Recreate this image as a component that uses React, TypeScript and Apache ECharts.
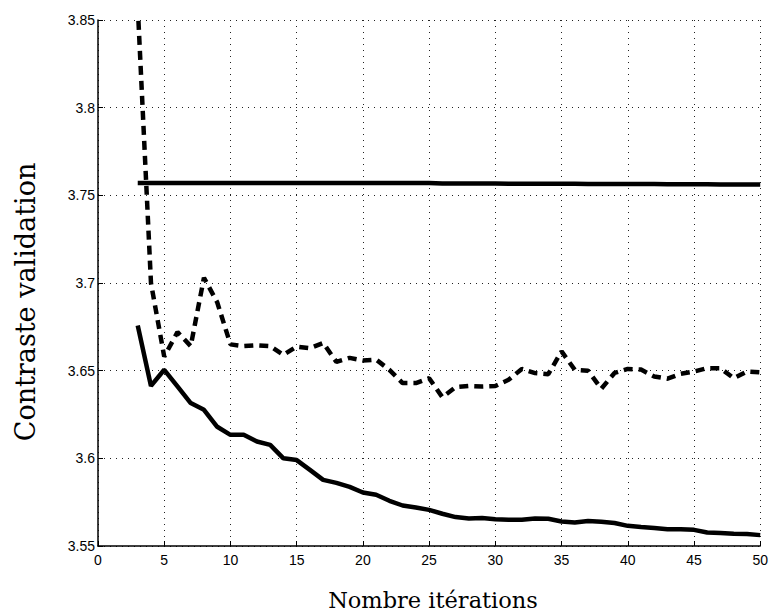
import React, { useEffect, useRef } from "react";
import * as echarts from "echarts";

const iterations = [3, 4, 5, 6, 7, 8, 9, 10, 11, 12, 13, 14, 15, 16, 17, 18, 19, 20, 21, 22, 23, 24, 25, 26, 27, 28, 29, 30, 31, 32, 33, 34, 35, 36, 37, 38, 39, 40, 41, 42, 43, 44, 45, 46, 47, 48, 49, 50];

const flatValues = [3.757, 3.757, 3.757, 3.757, 3.757, 3.757, 3.757, 3.757, 3.757, 3.757, 3.757, 3.757, 3.757, 3.757, 3.757, 3.757, 3.757, 3.757, 3.757, 3.757, 3.757, 3.757, 3.757, 3.7568, 3.7568, 3.7568, 3.7568, 3.7568, 3.7566, 3.7566, 3.7566, 3.7566, 3.7566, 3.7566, 3.7564, 3.7564, 3.7564, 3.7564, 3.7564, 3.7564, 3.7563, 3.7563, 3.7563, 3.7563, 3.7562, 3.7562, 3.7562, 3.7562];

const dashedValues = [3.858, 3.700, 3.658, 3.672, 3.664, 3.703, 3.689, 3.665, 3.664, 3.6645, 3.664, 3.659, 3.6637, 3.6628, 3.6658, 3.655, 3.6573, 3.6558, 3.6563, 3.6505, 3.6429, 3.6429, 3.6457, 3.6349, 3.6406, 3.6413, 3.641, 3.6413, 3.6448, 3.651, 3.6486, 3.648, 3.661, 3.6505, 3.650, 3.6397, 3.6487, 3.651, 3.6506, 3.6467, 3.6454, 3.6482, 3.6495, 3.6514, 3.6514, 3.6457, 3.6495, 3.649];

const solidValues = [3.6757, 3.6413, 3.6505, 3.641, 3.6315, 3.6277, 3.618, 3.6134, 3.6134, 3.6096, 3.6077, 3.600, 3.599, 3.5934, 3.5877, 3.586, 3.5837, 3.5805, 3.5792, 3.5758, 3.5731, 3.572, 3.5706, 3.5684, 3.5665, 3.5657, 3.566, 3.5653, 3.565, 3.565, 3.5657, 3.5655, 3.564, 3.5634, 3.5642, 3.5638, 3.5631, 3.5615, 3.5608, 3.5602, 3.5596, 3.5596, 3.5592, 3.5577, 3.5574, 3.557, 3.5568, 3.5562];

const xLabel = "Nombre itérations";
const yLabel = "Contraste validation";

const pairs = (ys: number[]) => iterations.map((x, i) => [x, ys[i]]);

export default function App() {
  const ref = useRef<HTMLDivElement>(null);
  useEffect(() => {
    document.body.style.margin = "0";
    const chart = echarts.init(ref.current!, undefined, { renderer: "svg" });
    const tickFont = { fontFamily: "Liberation Sans, Arial, sans-serif", fontSize: 14, color: "#000" };
    const splitLine = { show: true, lineStyle: { color: "#222", width: 1, type: [1, 5] as number[] } };
    chart.setOption({
      animation: false,
      backgroundColor: "#fff",
      grid: { left: 98, right: 6, top: 20, bottom: 67, containLabel: false },
      xAxis: {
        type: "value",
        min: 0,
        max: 50,
        interval: 5,
        axisLine: { show: true, onZero: false, lineStyle: { color: "#000", width: 1.5 } },
        axisTick: { show: true, inside: true, length: 5, lineStyle: { color: "#000", width: 1 } },
        axisLabel: { ...tickFont, margin: 7 },
        splitLine,
      },
      yAxis: {
        type: "value",
        min: 3.55,
        max: 3.85,
        interval: 0.05,
        axisLine: { show: true, onZero: false, lineStyle: { color: "#000", width: 1.5 } },
        axisTick: { show: true, inside: true, length: 5, lineStyle: { color: "#000", width: 1 } },
        axisLabel: {
          ...tickFont,
          margin: 3,
          formatter: (v: number) => String(parseFloat(v.toFixed(2))),
        },
        splitLine,
      },
      graphic: [
        {
          type: "text",
          x: 433,
          y: 600,
          style: {
            text: xLabel,
            fontFamily: "DejaVu Serif, serif",
            fontSize: 22.5,
            fill: "#000",
            textAlign: "center",
            textVerticalAlign: "middle",
          },
        },
        {
          type: "text",
          x: 25,
          y: 302,
          rotation: Math.PI / 2,
          style: {
            text: yLabel,
            fontFamily: "DejaVu Serif, serif",
            fontSize: 27,
            fill: "#000",
            textAlign: "center",
            textVerticalAlign: "middle",
          },
        },
      ],
      series: [
        {
          type: "line",
          data: pairs(flatValues),
          showSymbol: false,
          lineStyle: { color: "#000", width: 4.5 },
        },
        {
          type: "line",
          data: pairs(dashedValues),
          showSymbol: false,
          clip: true,
          lineStyle: { color: "#000", width: 4.5, type: [9, 6], cap: "butt" },
        },
        {
          type: "line",
          data: pairs(solidValues),
          showSymbol: false,
          lineStyle: { color: "#000", width: 4.5 },
        },
      ],
    });
    return () => chart.dispose();
  }, []);
  return <div ref={ref} style={{ width: 771, height: 613 }} />;
}
